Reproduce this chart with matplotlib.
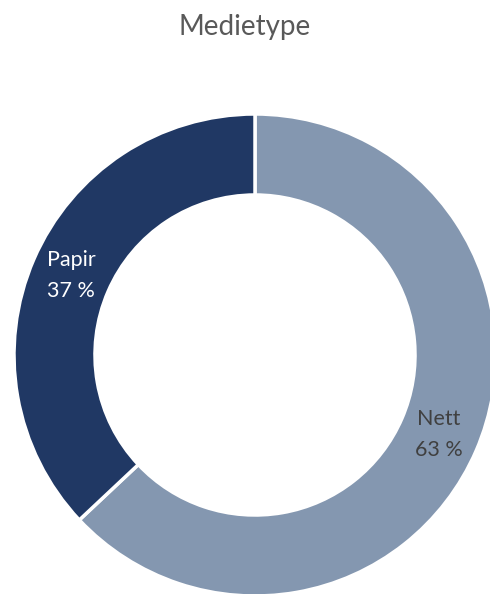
import matplotlib.pyplot as plt
import numpy as np

plt.rcParams['font.family'] = ['Lato', 'DejaVu Sans']

labels = ['Nett', 'Papir']
shares = [63, 37]
colors = ['#8497B0', '#203864']
text_colors = ['#404040', 'white']

fig = plt.figure(figsize=(4.9, 5.94), dpi=100)
ax = fig.add_axes([14/490, -2/594, 482/490, 482/594])

wedges, _ = ax.pie(shares, colors=colors, startangle=90, counterclock=False,
                   radius=1, wedgeprops=dict(width=0.336, edgecolor='white', linewidth=2.5))

# labels in the middle of the ring
r_mid = 1 - 0.336/2
for w, lab, val, tc in zip(wedges, labels, shares, text_colors):
    ang = np.deg2rad((w.theta1 + w.theta2) / 2)
    ax.text(r_mid*np.cos(ang), r_mid*np.sin(ang), f"{lab}\n{val} %",
            ha='center', va='center', fontsize=15.5, color=tc, linespacing=1.65)

ax.set_xlim(-1, 1)
ax.set_ylim(-1, 1)
ax.set_aspect('equal')
ax.axis('off')

fig.text(0.5, 1 - 27/594, 'Medietype', ha='center', va='center', fontsize=20, color='#595959')

fig.savefig('out.png', dpi=100)
